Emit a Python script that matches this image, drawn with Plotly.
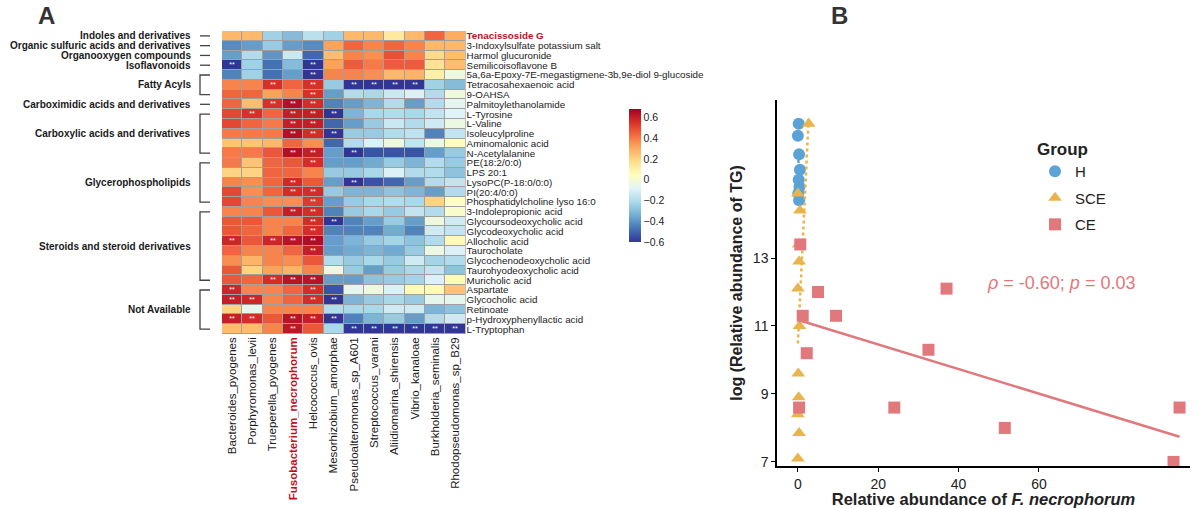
import plotly.graph_objects as go
import numpy as np

W, H = 1200, 508
FONT = "Arial, Liberation Sans, sans-serif"
RED_TXT = "#C0101E"

# ---------------- Panel A data ----------------
bacteria = ["Bacteroides_pyogenes", "Porphyromonas_levii", "Trueperella_pyogenes",
            "Fusobacterium_necrophorum", "Helcococcus_ovis", "Mesorhizobium_amorphae",
            "Pseudoalteromonas_sp_A601", "Streptococcus_varani", "Aliidiomarina_shirensis",
            "Vibrio_kanaloae", "Burkholderia_seminalis", "Rhodopseudomonas_sp_B29"]

metabolites = ["Tenacissoside G", "3-Indoxylsulfate potassium salt", "Harmol glucuronide",
               "Semilicoisoflavone B", "5a,6a-Epoxy-7E-megastigmene-3b,9e-diol 9-glucoside",
               "Tetracosahexaenoic acid", "9-OAHSA", "Palmitoylethanolamide", "L-Tyrosine",
               "L-Valine", "Isoleucylproline", "Aminomalonic acid", "N-Acetylalanine",
               "PE(18:2/0:0)", "LPS 20:1", "LysoPC(P-18:0/0:0)", "PI(20:4/0:0)",
               "Phosphatidylcholine lyso 16:0", "3-Indolepropionic acid",
               "Glycoursodeoxycholic acid", "Glycodeoxycholic acid", "Allocholic acid",
               "Taurocholate", "Glycochenodeoxycholic acid", "Taurohyodeoxycholic acid",
               "Muricholic acid", "Aspartate", "Glycocholic acid", "Retinoate",
               "p-Hydroxyphenyllactic acid", "L-Tryptophan"]

corr = [
    [0.27, 0.27, -0.24, -0.30, -0.18, -0.24, 0.27, 0.27, 0.13, 0.27, 0.44, 0.30],
    [-0.42, -0.38, -0.26, -0.38, -0.42, 0.32, 0.44, 0.38, 0.44, 0.38, 0.27, 0.27],
    [-0.38, -0.20, -0.40, -0.14, -0.50, 0.26, 0.38, 0.36, 0.48, 0.38, 0.18, 0.26],
    [-0.60, -0.24, -0.48, -0.30, -0.60, 0.32, 0.46, 0.40, 0.46, 0.46, 0.16, 0.26],
    [-0.44, -0.24, -0.48, -0.38, -0.60, 0.38, 0.38, 0.36, 0.27, 0.28, 0.10, -0.03],
    [0.38, 0.38, 0.55, 0.44, 0.55, -0.26, -0.60, -0.60, -0.60, -0.60, -0.24, -0.30],
    [0.44, 0.44, 0.32, 0.38, 0.55, -0.38, -0.20, -0.22, -0.14, -0.10, -0.20, -0.03],
    [0.44, 0.26, 0.55, 0.64, 0.56, -0.44, -0.38, -0.32, -0.20, -0.38, -0.20, -0.07],
    [0.50, 0.55, 0.44, 0.60, 0.60, -0.60, -0.32, -0.22, -0.20, -0.22, -0.16, -0.09],
    [0.50, 0.44, 0.40, 0.60, 0.60, -0.50, -0.38, -0.26, -0.14, -0.20, -0.13, -0.04],
    [0.40, 0.40, 0.40, 0.64, 0.56, -0.60, -0.26, -0.26, -0.20, -0.17, -0.44, -0.16],
    [0.24, 0.24, 0.27, 0.44, 0.36, -0.50, -0.20, -0.10, -0.03, -0.16, -0.04, 0.05],
    [0.40, 0.40, 0.47, 0.64, 0.60, -0.38, -0.60, -0.54, -0.54, -0.54, -0.38, -0.26],
    [0.40, 0.24, 0.44, 0.47, 0.56, -0.38, -0.38, -0.35, -0.26, -0.32, -0.20, -0.26],
    [0.20, 0.20, 0.44, 0.44, 0.38, -0.26, -0.26, -0.22, -0.10, -0.20, -0.20, -0.28],
    [0.38, 0.36, 0.44, 0.57, 0.47, -0.38, -0.60, -0.54, -0.50, -0.38, -0.20, -0.16],
    [0.50, 0.36, 0.44, 0.56, 0.56, -0.26, -0.32, -0.32, -0.28, -0.32, -0.38, -0.20],
    [0.50, 0.38, 0.36, 0.36, 0.53, -0.38, -0.26, -0.22, -0.20, -0.22, 0.20, 0.03],
    [0.38, 0.38, 0.47, 0.60, 0.56, -0.44, -0.26, -0.22, -0.26, -0.16, -0.20, 0.01],
    [0.47, 0.47, 0.38, 0.38, 0.56, -0.62, -0.44, -0.38, -0.26, -0.38, -0.03, -0.13],
    [0.47, 0.44, 0.38, 0.44, 0.56, -0.44, -0.44, -0.44, -0.35, -0.44, -0.13, -0.16],
    [0.58, 0.47, 0.58, 0.63, 0.65, -0.38, -0.32, -0.26, -0.23, -0.28, -0.20, 0.06],
    [0.44, 0.38, 0.38, 0.44, 0.60, -0.38, -0.35, -0.32, -0.35, -0.26, -0.04, -0.10],
    [0.36, 0.28, 0.38, 0.36, 0.47, -0.20, -0.26, -0.22, -0.26, -0.13, -0.23, -0.20],
    [0.47, 0.20, 0.32, 0.28, 0.38, -0.04, -0.26, -0.38, -0.26, -0.22, -0.16, -0.28],
    [0.47, 0.44, 0.56, 0.63, 0.63, -0.38, -0.38, -0.28, -0.26, -0.23, -0.10, 0.06],
    [0.58, 0.38, 0.38, 0.44, 0.56, -0.54, -0.06, -0.03, -0.10, 0.06, 0.06, 0.24],
    [0.60, 0.58, 0.38, 0.44, 0.56, -0.62, -0.32, -0.26, -0.22, -0.26, -0.06, -0.06],
    [0.20, -0.06, 0.38, 0.38, 0.38, -0.20, -0.22, -0.22, -0.13, -0.13, -0.32, -0.28],
    [0.60, 0.56, 0.47, 0.63, 0.60, -0.62, -0.44, -0.32, -0.26, -0.38, -0.20, -0.13],
    [0.26, 0.26, 0.38, 0.62, 0.47, -0.22, -0.60, -0.60, -0.60, -0.60, -0.60, -0.60],
]

# column indices (0-based) carrying "**" in each row
sig_cols = [[], [], [], [0, 4], [4], [2, 4, 6, 7, 8, 9], [4], [2, 3, 4], [1, 3, 4, 5],
            [3, 4], [3, 4, 5], [], [3, 4, 6], [4], [], [3, 6], [3, 4], [4], [3, 4],
            [4, 5], [4], [0, 2, 3, 4], [4], [], [], [2, 3, 4], [0, 4], [0, 1, 4, 5],
            [], [0, 1, 3, 4, 5], [3, 6, 7, 8, 9, 10, 11]]

groups = [("Indoles and derivatives", 0, 0),
          ("Organic sulfuric acids and derivatives", 1, 1),
          ("Organooxygen compounds", 2, 2),
          ("Isoflavonoids", 3, 3),
          ("Fatty Acyls", 4, 6),
          ("Carboximidic acids and derivatives", 7, 7),
          ("Carboxylic acids and derivatives", 8, 12),
          ("Glycerophospholipids", 13, 17),
          ("Steroids and steroid derivatives", 18, 25),
          ("Not Available", 26, 30)]

cbar_ticks = [-0.6, -0.4, -0.2, 0, 0.2, 0.4, 0.6]

# ---------------- Panel B data ----------------
h_x = [0.2, 0.0, 0.3, 0.5, 0.2, 0.4, 0.1, 0.3]
h_y = [16.95, 16.6, 16.05, 15.6, 15.3, 15.1, 14.9, 14.7]
sce_x = [2.7, 0.0, 0.5, 0.2, 0.3, 0.0, 0.4, 0.1, 0.2, 0.0, 0.3, 0.0]
sce_y = [16.95, 14.9, 14.4, 13.4, 12.9, 12.1, 11.0, 9.6, 8.9, 8.4, 7.85, 7.1]
ce_x = [0.3, 0.6, 1.2, 2.2, 5.0, 9.5, 24.0, 32.5, 37.0, 51.5, 93.5, 95.0]
ce_y = [8.6, 13.4, 11.3, 10.2, 12.0, 11.3, 8.6, 10.3, 12.1, 8.0, 7.0, 8.6]
x_ticks = [0, 20, 40, 60]
y_ticks = [7, 9, 11, 13]

C_H, C_SCE, C_CE = "#5BA3D6", "#E9B44C", "#E0787C"

rdylbu_r = ["#313695", "#4575b4", "#74add1", "#abd9e9", "#e0f3f8", "#ffffbf",
            "#fee090", "#fdae61", "#f46d43", "#d73027", "#a50026"]
cscale = [[i / (len(rdylbu_r) - 1), c] for i, c in enumerate(rdylbu_r)]

nr, nc = len(metabolites), len(bacteria)
text = [["**" if j in sig_cols[i] else "" for j in range(nc)] for i in range(nr)]

fig = go.Figure()

fig.add_trace(go.Heatmap(
    z=corr, x=list(range(nc)), y=list(range(nr)), text=text,
    texttemplate="%{text}", textfont=dict(color="white", size=7, family=FONT),
    colorscale=cscale, zmin=-0.6, zmax=0.68, xgap=1, ygap=1,
    xaxis="x", yaxis="y", hoverinfo="skip",
    colorbar=dict(x=629 / W, xanchor="left", y=1 - 109 / H, yanchor="top",
                  len=133 / H, lenmode="fraction", thickness=12, outlinewidth=0,
                  xpad=0, ypad=0, tickvals=cbar_ticks, ticks="",
                  tickfont=dict(size=10.5, color="#222", family=FONT)),
))

# ---------------- Panel B traces ----------------
def add_group(xs, ys, name, color, symbol, dash, width):
    fig.add_trace(go.Scatter(x=xs, y=ys, mode="markers", name=name, legendgroup=name,
                             marker=dict(color=color, symbol=symbol, size=12),
                             xaxis="x2", yaxis="y2"))
    k, b = np.polyfit(xs, ys, 1)
    xl = np.array([min(xs), max(xs)])
    fig.add_trace(go.Scatter(x=xl, y=k * xl + b, mode="lines", showlegend=False, legendgroup=name,
                             line=dict(color=color, dash=dash, width=width),
                             xaxis="x2", yaxis="y2", hoverinfo="skip"))

add_group(h_x, h_y, "H", C_H, "circle", "dot", 2.5)
add_group(sce_x, sce_y, "SCE", C_SCE, "triangle-up", "dot", 2.5)
add_group(ce_x, ce_y, "CE", C_CE, "square", "solid", 2.5)

# ---------------- layout ----------------
tick_x = [("<b><span style='color:%s'>%s</span></b>" % (RED_TXT, b)) if b.startswith("Fuso") else b
          for b in bacteria]
tick_y = [("<b><span style='color:%s'>%s</span></b>" % (RED_TXT, m)) if i == 0 else m
          for i, m in enumerate(metabolites)]

shapes = [dict(type="rect", xref="x", yref="y", x0=-0.5, x1=nc - 0.5, y0=-0.5, y1=nr - 0.5,
               fillcolor="#a0a0a0", line=dict(color="#a0a0a0", width=1), layer="below")]
annotations = []
bx0, bx1 = 200 / W, 210 / W
for name, r0, r1 in groups:
    if r0 == r1:
        shapes.append(dict(type="line", xref="paper", yref="y", x0=bx0, x1=bx1, y0=r0, y1=r0,
                           line=dict(color="#4a4040", width=1.3)))
    else:
        shapes.append(dict(type="path", xref="paper", yref="y",
                           path="M %f,%f L %f,%f L %f,%f L %f,%f" % (bx1, r0, bx0, r0, bx0, r1, bx1, r1),
                           line=dict(color="#4a4040", width=1.3)))
    annotations.append(dict(text="<b>%s</b>" % name, xref="paper", yref="y", x=193 / W,
                            y=(r0 + r1) / 2, xanchor="right", yanchor="middle", showarrow=False,
                            font=dict(size=10, color="#1a1a1a", family=FONT)))

annotations += [
    dict(text="<b>A</b>", xref="paper", yref="paper", x=46 / W, y=1, xanchor="center",
         yanchor="top", showarrow=False, font=dict(size=24, color="#333", family=FONT)),
    dict(text="<b>B</b>", xref="paper", yref="paper", x=839 / W, y=1, xanchor="center",
         yanchor="top", showarrow=False, font=dict(size=24, color="#333", family=FONT)),
    dict(text="<i>ρ</i> = -0.60; <i>p</i> = 0.03", xref="paper", yref="paper", x=1061 / W,
         y=1 - 283 / H, xanchor="center", yanchor="middle", showarrow=False,
         font=dict(size=18, color=C_CE, family=FONT)),
]

axis_common = dict(automargin=False, showgrid=False, zeroline=False)

fig.update_layout(
    template="none",
    width=W, height=H, margin=dict(l=0, r=0, t=0, b=0, autoexpand=False),
    paper_bgcolor="white", plot_bgcolor="white",
    font=dict(family=FONT, color="#1a1a1a"),
    xaxis=dict(domain=[222 / W, 465.6 / W], range=[-0.5, nc - 0.5], tickvals=list(range(nc)),
               ticktext=tick_x, tickangle=-90, tickfont=dict(size=11.5, family=FONT, color="#1a1a1a"),
               showline=False, ticks="", anchor="y", **axis_common),
    yaxis=dict(domain=[1 - 334 / H, 1 - 31 / H], range=[nr - 0.5, -0.5], tickvals=list(range(nr)),
               ticktext=tick_y, side="right", tickfont=dict(size=9.8, family=FONT, color="#1a1a1a"),
               showline=False, ticks="", anchor="x", **axis_common),
    xaxis2=dict(domain=[777 / W, 1190 / W], range=[-5.2, 97.6], tickvals=x_ticks, anchor="y2",
                showline=True, linecolor="black", linewidth=1.5, ticks="outside", ticklen=4,
                tickcolor="black", tickfont=dict(size=14, color="#222"),
                title=dict(text="<b>Relative abundance of <i>F. necrophorum</i></b>",
                           font=dict(size=16.5, color="#222"), standoff=3), **axis_common),
    yaxis2=dict(domain=[1 - 466 / H, 1 - 100 / H], range=[6.88, 17.65], tickvals=y_ticks, anchor="x2",
                showline=True, linecolor="black", linewidth=1.5, ticks="outside", ticklen=4,
                tickcolor="black", tickfont=dict(size=14, color="#222"),
                title=dict(text="<b>log (Relative abundance of TG)</b>",
                           font=dict(size=16, color="#222"), standoff=6), **axis_common),
    legend=dict(x=1035 / W, y=1 - 133 / H, xanchor="left", yanchor="top",
                traceorder="grouped", tracegroupgap=4,
                title=dict(text="<b>Group</b>", font=dict(size=17, color="#222")),
                font=dict(size=15, color="#222"), bgcolor="rgba(0,0,0,0)"),
    shapes=shapes, annotations=annotations,
)

fig.write_html("out.html", config={"displayModeBar": False},
               post_script="document.body.style.margin='0px';")
